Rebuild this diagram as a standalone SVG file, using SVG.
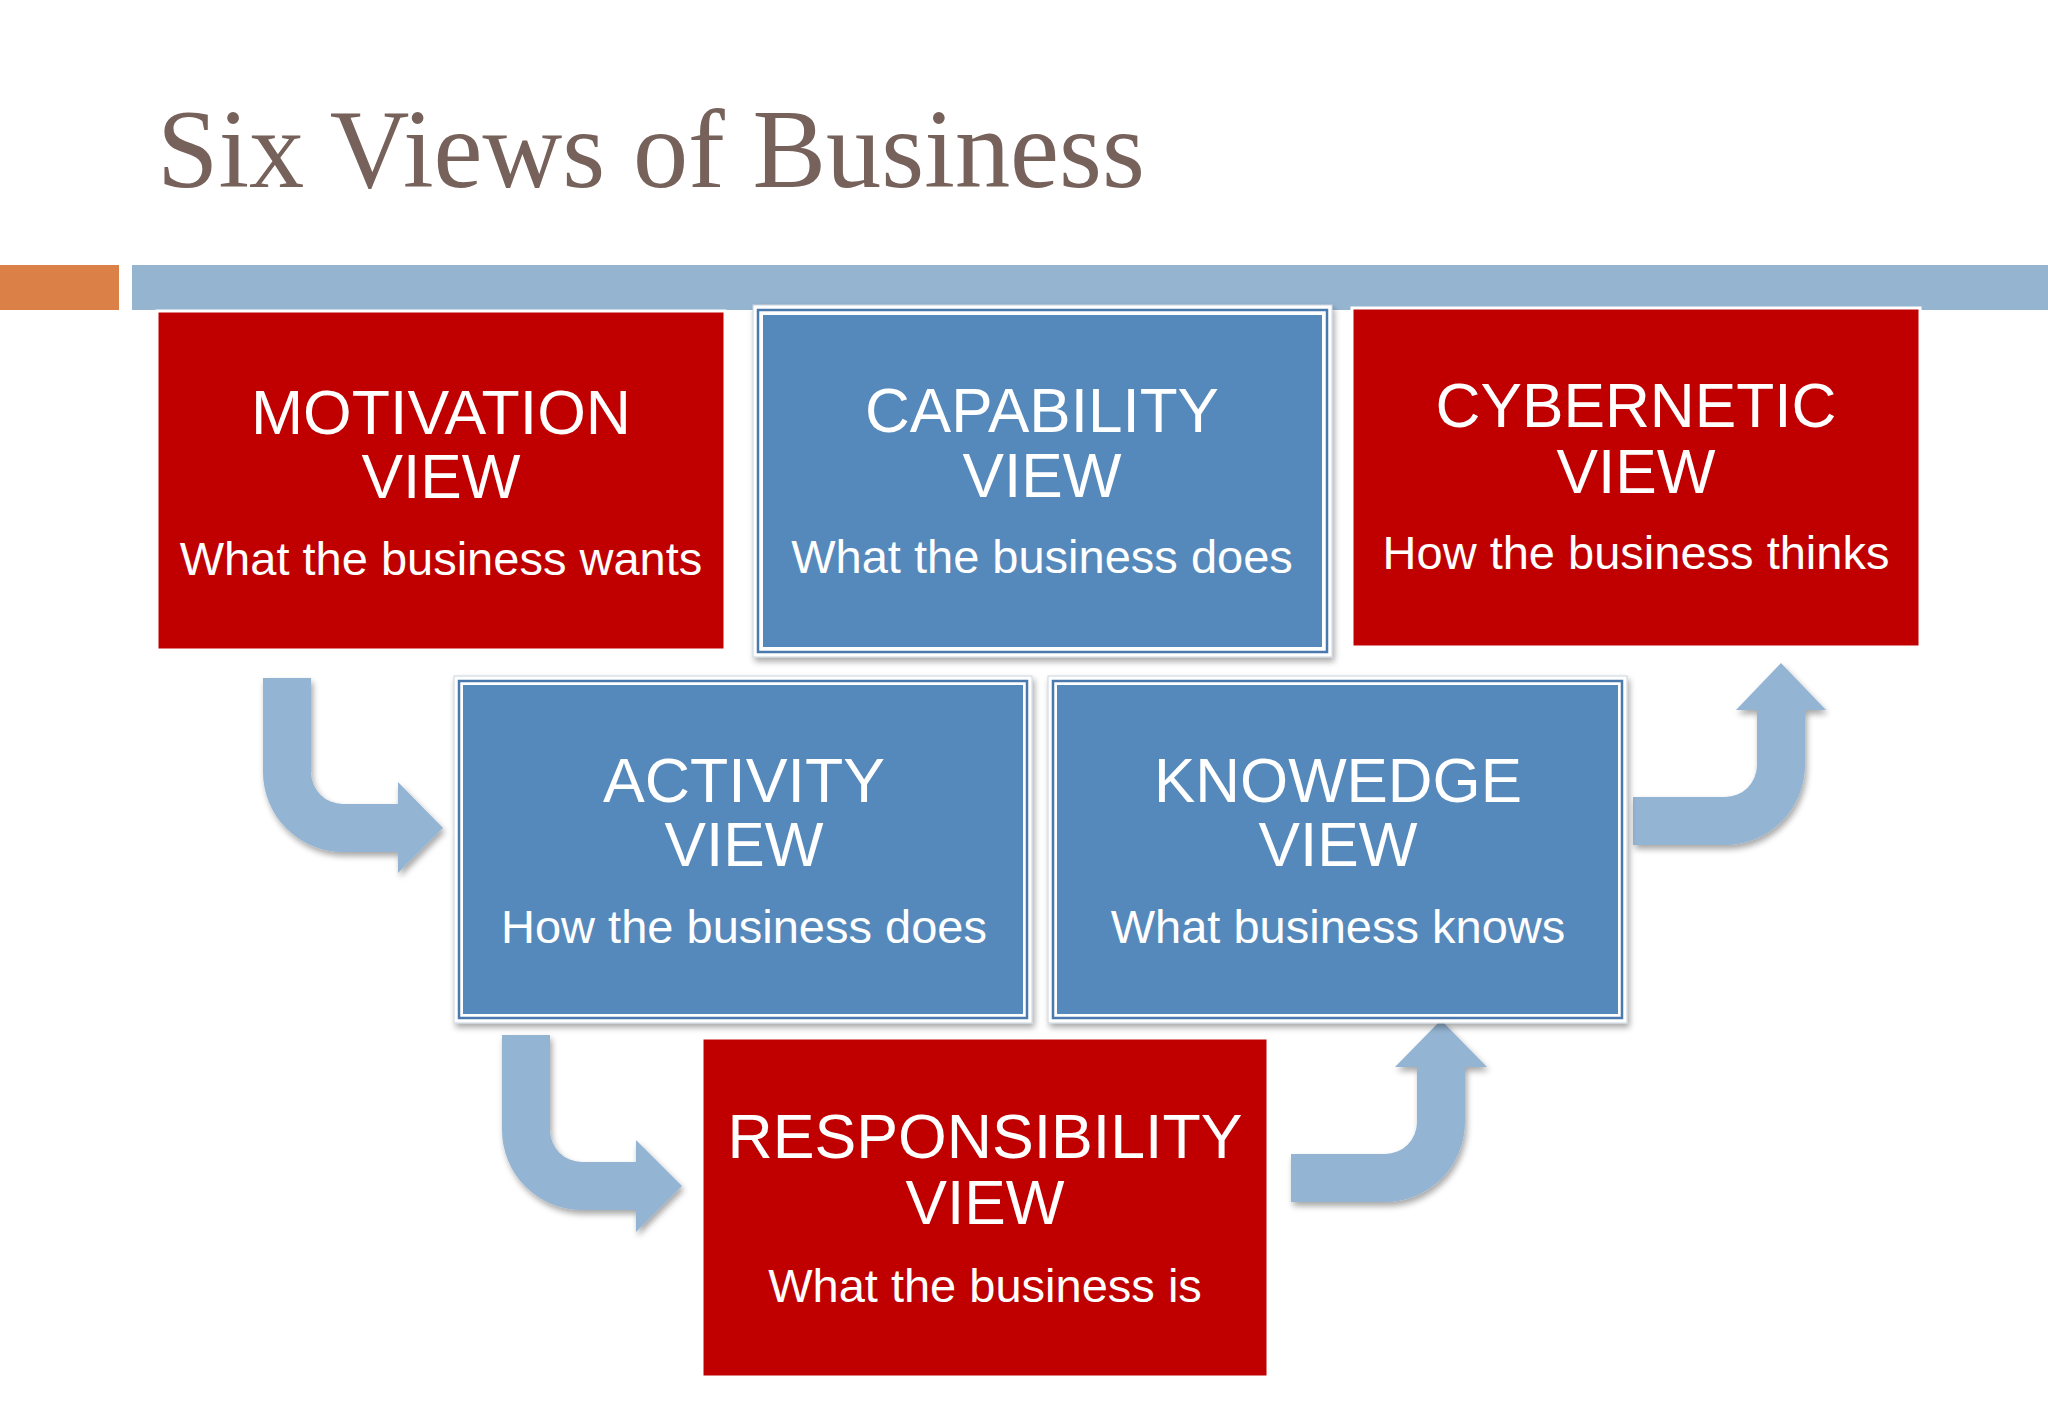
<svg xmlns="http://www.w3.org/2000/svg" width="2048" height="1418" viewBox="0 0 2048 1418">
<defs>
<style>
.title{font-family:"Liberation Serif","Times New Roman",serif;font-size:112px;fill:#76625b}
.hd{font-family:"Liberation Sans",Arial,sans-serif;font-size:63px;fill:#ffffff;text-anchor:middle}
.sub{font-family:"Liberation Sans",Arial,sans-serif;font-size:47px;fill:#ffffff;text-anchor:middle}
.red{fill:#c00000;stroke:#ffffff;stroke-width:3}
.frame{fill:#ffffff;stroke:#c9d3dd;stroke-width:1}
.bline{fill:none;stroke:#4a79ae;stroke-width:2.5}
.bfill{fill:#5689bb}
.arrow{fill:#93b4d2}
</style>
<filter id="sh" x="-5%" y="-5%" width="112%" height="115%">
<feGaussianBlur in="SourceAlpha" stdDeviation="3"/>
<feOffset dx="2" dy="4" result="b"/>
<feComponentTransfer><feFuncA type="linear" slope="0.35"/></feComponentTransfer>
<feMerge><feMergeNode/><feMergeNode in="SourceGraphic"/></feMerge>
</filter>
</defs>
<rect width="2048" height="1418" fill="#ffffff"/>
<text class="title" x="157" y="187" textLength="988" lengthAdjust="spacingAndGlyphs">Six Views of Business</text>
<rect x="0" y="265" width="119" height="45" fill="#db8148"/>
<rect x="132" y="265" width="1916" height="45" fill="#95b4d0"/>

<g id="connectors">
<path class="arrow" filter="url(#sh)" d="M263,678 H311 V772 A32,32 0 0 0 343,804 H398 V782 L443,828 L398,873 V852 H343 A80,80 0 0 1 263,772 Z"/>
<path class="arrow" filter="url(#sh)" d="M1633,797 H1725 A32,32 0 0 0 1757,765 V710 H1736 L1781,663 L1826,710 H1805 V765 A80,80 0 0 1 1725,845 H1633 Z"/>
<path class="arrow" filter="url(#sh)" d="M502,1035 H550 V1130 A32,32 0 0 0 582,1162 H636 V1140 L682,1186 L636,1232 V1210 H582 A80,80 0 0 1 502,1130 Z"/>
<path class="arrow" filter="url(#sh)" d="M1291,1154 H1385 A32,32 0 0 0 1417,1122 V1067 H1395 L1441,1020 L1487,1067 H1465 V1122 A80,80 0 0 1 1385,1202 H1291 Z"/>
</g>

<g id="motivation">
<rect class="red" x="157" y="311" width="568" height="339"/>
<text class="hd" x="441" y="434" textLength="380" lengthAdjust="spacingAndGlyphs">MOTIVATION</text>
<text class="hd" x="441" y="498" textLength="159" lengthAdjust="spacingAndGlyphs">VIEW</text>
<text class="sub" x="441" y="575">What the business wants</text>
</g>

<g id="capability">
<rect class="frame" filter="url(#sh)" x="753" y="305" width="579" height="352"/>
<rect class="bline" x="758" y="310" width="569" height="342"/>
<rect class="bfill" x="763" y="315" width="559" height="332"/>
<text class="hd" x="1042" y="432" textLength="354" lengthAdjust="spacingAndGlyphs">CAPABILITY</text>
<text class="hd" x="1042" y="497" textLength="159" lengthAdjust="spacingAndGlyphs">VIEW</text>
<text class="sub" x="1042" y="573">What the business does</text>
</g>

<g id="cybernetic">
<rect class="red" x="1352" y="308" width="568" height="339"/>
<text class="hd" x="1636" y="427" textLength="401" lengthAdjust="spacingAndGlyphs">CYBERNETIC</text>
<text class="hd" x="1636" y="493" textLength="159" lengthAdjust="spacingAndGlyphs">VIEW</text>
<text class="sub" x="1636" y="569">How the business thinks</text>
</g>

<g id="activity">
<rect class="frame" filter="url(#sh)" x="454" y="676" width="578" height="347"/>
<rect class="bline" x="459" y="681" width="568" height="337"/>
<rect class="bfill" x="463" y="685" width="560" height="329"/>
<text class="hd" x="744" y="802" textLength="282" lengthAdjust="spacingAndGlyphs">ACTIVITY</text>
<text class="hd" x="744" y="866" textLength="159" lengthAdjust="spacingAndGlyphs">VIEW</text>
<text class="sub" x="744" y="943">How the business does</text>
</g>

<g id="knowedge">
<rect class="frame" filter="url(#sh)" x="1048" y="676" width="579" height="347"/>
<rect class="bline" x="1053" y="681" width="569" height="337"/>
<rect class="bfill" x="1057" y="685" width="561" height="329"/>
<text class="hd" x="1338" y="802" textLength="368" lengthAdjust="spacingAndGlyphs">KNOWEDGE</text>
<text class="hd" x="1338" y="866" textLength="159" lengthAdjust="spacingAndGlyphs">VIEW</text>
<text class="sub" x="1338" y="943">What business knows</text>
</g>

<g id="responsibility">
<rect class="red" x="702" y="1038" width="566" height="339"/>
<text class="hd" x="985" y="1158" textLength="515" lengthAdjust="spacingAndGlyphs">RESPONSIBILITY</text>
<text class="hd" x="985" y="1224" textLength="159" lengthAdjust="spacingAndGlyphs">VIEW</text>
<text class="sub" x="985" y="1302">What the business is</text>
</g>
</svg>
